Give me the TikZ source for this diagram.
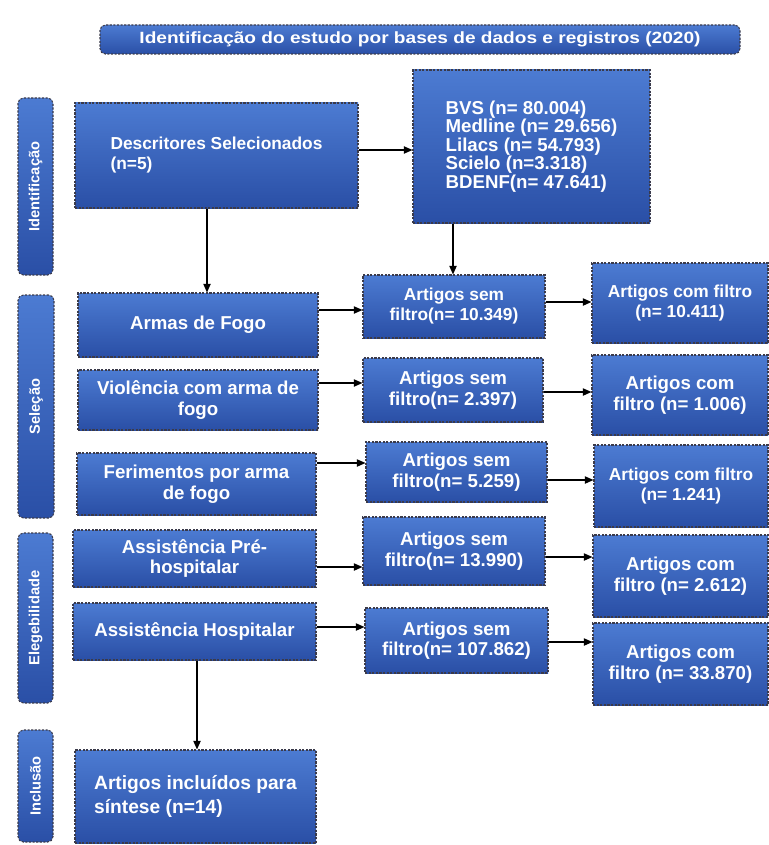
\documentclass[tikz,border=0pt]{standalone}
\usepackage{fontspec}
\setmainfont{Liberation Sans}
\usetikzlibrary{arrows.meta}
\definecolor{btop}{HTML}{4C7BD2}
\definecolor{bbot}{HTML}{2A4FA6}
\definecolor{bedge}{HTML}{3A3A4A}
\begin{document}
\begin{tikzpicture}[x=0.75pt,y=-0.75pt,
  box/.style={rectangle, top color=btop, bottom color=bbot, draw=bedge,
    dash pattern=on 1.6pt off 1.1pt, line width=0.8pt, text=white,
    font=\bfseries\fontsize{14}{15.5}\selectfont, align=center, inner sep=2pt},
  smallf/.style={font=\bfseries\fontsize{13}{15}\selectfont},
  sidebox/.style={box, rounded corners=4pt},
  sidetext/.style={text=white, font=\bfseries\fontsize{11}{12}\selectfont, rotate=90, inner sep=0pt},
  arr/.style={-{Triangle[length=6.5pt,width=5.5pt]}, line width=0.9pt, black}]
\useasboundingbox (0,0) rectangle (768,845);

% title
\node[sidebox, minimum width=480pt, minimum height=21.75pt,
  font=\bfseries\fontsize{12.2}{14}\selectfont] (title) at (420,39.5)
  {\resizebox{420.75pt}{\height}{Identificação do estudo por bases de dados e registros (2020)}};

% side labels
\node[sidebox, minimum width=26.25pt, minimum height=132.75pt] (sI) at (35.5,186.5) {};
\node[sidetext] (sIt) at (sI) {Identificação};
\node[sidebox, minimum width=27pt, minimum height=167.25pt] (sS) at (36,406.5) {};
\node[sidetext] (sSt) at (sS) {Seleção};
\node[sidebox, minimum width=26.25pt, minimum height=127.5pt] (sE) at (35.5,618) {};
\node[sidetext] (sEt) at (sE) {Elegebilidade};
\node[sidebox, minimum width=26.25pt, minimum height=84pt] (sN) at (35.5,786) {};
\node[sidetext] (sNt) at (sN) {Inclusão};

% left column
\node[box, smallf, align=left, minimum width=212.25pt, minimum height=78.75pt] (desc) at (216.5,155.5)
  {Descritores Selecionados\\(n=5)};
\node[box, align=left, minimum width=177.75pt, minimum height=114.75pt,
  font=\bfseries\fontsize{14}{13.8}\selectfont] (bvs) at (531.5,146.5)
  {BVS (n= 80.004)\\Medline (n= 29.656)\\Lilacs (n= 54.793)\\Scielo (n=3.318)\\BDENF(n= 47.641)};
\node[box, minimum width=180pt, minimum height=48pt] (a1) at (198,325) {Armas de Fogo};
\node[box, minimum width=180pt, minimum height=45pt] (a2) at (198,400) {Violência com arma de\\fogo};
\node[box, minimum width=179.25pt, minimum height=46.5pt] (a3) at (196.5,484) {Ferimentos por arma\\de fogo};
\node[box, minimum width=182.25pt, minimum height=42.75pt] (a4) at (194.5,558.5) {Assistência Pré-\\hospitalar};
\node[box, minimum width=182.25pt, minimum height=42.75pt] (a5) at (194.5,631.5) {Assistência Hospitalar};
\node[box, align=left, minimum width=180.75pt, minimum height=69.75pt,
  font=\bfseries\fontsize{14.4}{18}\selectfont] (inc) at (195.5,796.5)
  {Artigos incluídos para\\síntese (n=14)};

% middle column
\node[box, smallf, minimum width=136.5pt, minimum height=47.25pt] (m1) at (454,306.5) {Artigos sem\\filtro(n= 10.349)};
\node[box, minimum width=135pt, minimum height=48pt] (m2) at (453,390) {Artigos sem\\filtro(n= 2.397)};
\node[box, minimum width=135.75pt, minimum height=45pt] (m3) at (456.5,472) {Artigos sem\\filtro(n= 5.259)};
\node[box, minimum width=136.5pt, minimum height=51pt] (m4) at (454,551) {Artigos sem\\filtro(n= 13.990)};
\node[box, minimum width=137.25pt, minimum height=48.75pt] (m5) at (456.5,640.5) {Artigos sem\\filtro(n= 107.862)};

% right column
\node[box, smallf, minimum width=132pt, minimum height=60pt] (r1) at (680,303) {Artigos com filtro\\(n= 10.411)};
\node[box, minimum width=132pt, minimum height=60pt] (r2) at (680,395) {Artigos com\\filtro (n= 1.006)};
\node[box, smallf, minimum width=130.5pt, minimum height=61.5pt] (r3) at (681,486) {Artigos com filtro\\(n= 1.241)};
\node[box, minimum width=131.25pt, minimum height=61.5pt] (r4) at (680.5,576) {Artigos com\\filtro (n= 2.612)};
\node[box, minimum width=131.25pt, minimum height=61.5pt] (r5) at (680.5,664) {Artigos com\\filtro (n= 33.870)};

% connectors
\draw[arr] ([yshift=4.125pt]desc.east) -- ([yshift=-2.625pt]bvs.west);
\draw[arr] ([xshift=-7.125pt]desc.south) -- ([xshift=6.75pt]a1.north);
\draw[arr] ([xshift=-58.875pt]bvs.south) -- ([xshift=-0.75pt]m1.north);
\draw[arr] ([xshift=1.875pt]a5.south) -- ([xshift=1.125pt]inc.north);

\draw[arr] ([yshift=11.25pt]a1.east) -- ([yshift=-2.625pt]m1.west);
\draw[arr] ([yshift=12.75pt]a2.east) -- ([yshift=5.25pt]m2.west);
\draw[arr] ([yshift=15.75pt]a3.east) -- ([yshift=6.75pt]m3.west);
\draw[arr] ([yshift=-6.375pt]a4.east) -- ([yshift=-12pt]m4.west);
\draw[arr] ([yshift=3.375pt]a5.east) -- ([yshift=10.125pt]m5.west);

\draw[arr] ([yshift=3.375pt]m1.east) -- ([yshift=0.75pt]r1.west);
\draw[arr] ([yshift=-1.5pt]m2.east) -- ([yshift=2.25pt]r2.west);
\draw[arr] ([yshift=-6pt]m3.east) -- ([yshift=4.5pt]r3.west);
\draw[arr] ([yshift=-4.5pt]m4.east) -- ([yshift=14.25pt]r4.west);
\draw[arr] ([yshift=-1.125pt]m5.east) -- ([yshift=16.5pt]r5.west);
\end{tikzpicture}
\end{document}
